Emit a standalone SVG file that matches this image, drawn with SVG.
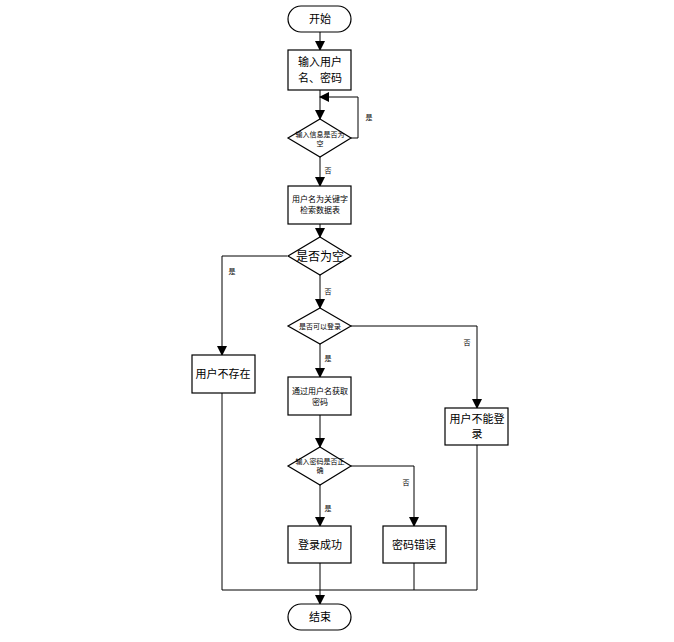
<svg xmlns="http://www.w3.org/2000/svg" width="674" height="642" viewBox="0 0 674 642">
<defs>
<style>
.n{fill:#fff;stroke:#000;stroke-width:1.2}
.t{font-family:"Noto Sans CJK SC","Noto Sans",sans-serif;fill:#000;text-anchor:middle}
.l{fill:none;stroke:#000;stroke-width:1}
.s{font-size:7px}
.m{font-size:8px}
.b{font-size:11px}
</style>
<marker id="a" markerWidth="10" markerHeight="10" refX="9" refY="5" orient="auto" markerUnits="userSpaceOnUse">
<path d="M0,0 L10,5 L0,10 Z" fill="#000"/>
</marker>
</defs>
<rect width="674" height="642" fill="#fff"/>
<g id="connectors">
<path class="l" d="M320,32 V50" marker-end="url(#a)"/>
<path class="l" d="M320,90 V119" marker-end="url(#a)"/>
<path class="l" d="M351,138 H358 V97 H320" marker-end="url(#a)"/>
<path class="l" d="M320,157 V186" marker-end="url(#a)"/>
<path class="l" d="M320,224 V237" marker-end="url(#a)"/>
<path class="l" d="M287,256 H222 V355" marker-end="url(#a)"/>
<path class="l" d="M320,275 V308" marker-end="url(#a)"/>
<path class="l" d="M351,326 H477 V408" marker-end="url(#a)"/>
<path class="l" d="M320,344 V377" marker-end="url(#a)"/>
<path class="l" d="M320,415 V447" marker-end="url(#a)"/>
<path class="l" d="M351,466 H414 V526" marker-end="url(#a)"/>
<path class="l" d="M320,485 V526" marker-end="url(#a)"/>
<path class="l" d="M320,563 V604" marker-end="url(#a)"/>
<path class="l" d="M222,393 V590 H477 V445"/>
<path class="l" d="M414,563 V590"/>
<text class="t s" x="369" y="120">是</text>
<text class="t s" x="328" y="173">否</text>
<text class="t s" x="232" y="274">是</text>
<text class="t s" x="328" y="294">否</text>
<text class="t s" x="467" y="345">否</text>
<text class="t s" x="328" y="361">是</text>
<text class="t s" x="406" y="485">否</text>
<text class="t s" x="328" y="511">是</text>
</g>
<g id="start">
<rect class="n" x="288" y="6" width="63" height="26" rx="13"/>
<text class="t b" x="320" y="23">开始</text>
</g>
<g id="input">
<rect class="n" x="288" y="50" width="63" height="40"/>
<text class="t b" x="320" y="66">输入用户</text>
<text class="t b" x="320" y="82">名、密码</text>
</g>
<g id="d1">
<path class="n" d="M320,119 L351,138 L320,157 L288,138 Z"/>
<text class="t s" x="320" y="137">输入信息是否为</text>
<text class="t s" x="320" y="146">空</text>
</g>
<g id="search">
<rect class="n" x="288" y="186" width="63" height="38"/>
<text class="t m" x="320" y="202">用户名为关键字</text>
<text class="t m" x="320" y="213">检索数据表</text>
</g>
<g id="d2">
<path class="n" d="M320,237 L351,256 L320,275 L288,256 Z"/>
<text class="t" style="font-size:12px" x="320" y="260.5">是否为空</text>
</g>
<g id="noUser">
<rect class="n" x="192" y="355" width="63" height="38"/>
<text class="t b" x="223" y="378">用户不存在</text>
</g>
<g id="d3">
<path class="n" d="M320,308 L351,326 L320,344 L288,326 Z"/>
<text class="t s" x="320" y="329">是否可以登录</text>
</g>
<g id="getPwd">
<rect class="n" x="288" y="377" width="63" height="38"/>
<text class="t m" x="320" y="394">通过用户名获取</text>
<text class="t m" x="320" y="405">密码</text>
</g>
<g id="cannot">
<rect class="n" x="445" y="408" width="63" height="37"/>
<text class="t b" x="477" y="423">用户不能登</text>
<text class="t b" x="477" y="438">录</text>
</g>
<g id="d4">
<path class="n" d="M320,447 L351,466 L320,485 L288,466 Z"/>
<text class="t s" x="320" y="464">输入密码是否正</text>
<text class="t s" x="320" y="473">确</text>
</g>
<g id="success">
<rect class="n" x="288" y="526" width="63" height="37"/>
<text class="t b" x="320" y="548.5">登录成功</text>
</g>
<g id="wrong">
<rect class="n" x="383" y="526" width="63" height="37"/>
<text class="t b" x="414" y="548.5">密码错误</text>
</g>
<g id="end">
<rect class="n" x="288" y="604" width="63" height="26" rx="13"/>
<text class="t b" x="320" y="621">结束</text>
</g>
</svg>
